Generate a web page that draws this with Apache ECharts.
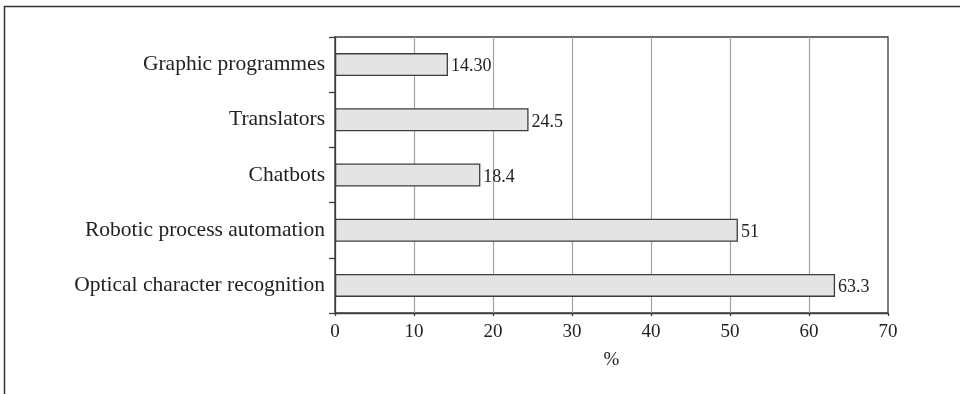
<!DOCTYPE html>
<html>
<head>
<meta charset="utf-8">
<script src="https://cdn.jsdelivr.net/npm/echarts@6/dist/echarts.min.js"></script>
<style>
  html, body { margin: 0; padding: 0; background: #fff; }
  #chart { width: 960px; height: 394px; }
</style>
</head>
<body>
<div id="chart"></div>
<script>
// Technology categories, listed top to bottom
const categories = [
  'Graphic programmes',
  'Translators',
  'Chatbots',
  'Robotic process automation',
  'Optical character recognition'
];
// Share of respondents, %
const values = [14.3, 24.5, 18.4, 51, 63.3];
// Printed value labels
const valueLabels = ['14.30', '24.5', '18.4', '51', '63.3'];
// Horizontal axis ticks
const xTicks = [0, 10, 20, 30, 40, 50, 60, 70];

const FONT = '"Liberation Serif", "DejaVu Serif", serif';
const TEXT = '#222';
const DARK = '#3c3c3c';

const chart = echarts.init(document.getElementById('chart'), null, { renderer: 'canvas' });

chart.setOption({
  animation: false,
  backgroundColor: '#fff',
  textStyle: { fontFamily: FONT, color: TEXT },
  graphic: [{
    type: 'rect',
    shape: { x: 4.5, y: 6.5, width: 2000, height: 2000 },
    style: { fill: 'none', stroke: '#333', lineWidth: 1.5 },
    silent: true
  }],
  grid: {
    left: 335, right: 72, top: 37, bottom: 81,
    show: true, borderColor: DARK, borderWidth: 1.3,
    backgroundColor: 'transparent'
  },
  xAxis: {
    type: 'value',
    min: xTicks[0],
    max: xTicks[xTicks.length - 1],
    interval: 10,
    name: '%',
    nameLocation: 'middle',
    nameGap: 38,
    nameTextStyle: { fontFamily: FONT, fontSize: 19, color: TEXT },
    axisLine: { show: true, lineStyle: { color: DARK, width: 1.3 } },
    axisTick: { show: true, length: 3, lineStyle: { color: DARK, width: 1.3 } },
    axisLabel: { fontFamily: FONT, fontSize: 19, color: TEXT, margin: 10 },
    splitLine: {
      show: true,
      lineStyle: {
        color: xTicks.map((t, i) => (i === 0 || i === xTicks.length - 1) ? 'rgba(0,0,0,0)' : '#a3a3a3'),
        width: 1.2
      }
    }
  },
  yAxis: {
    type: 'category',
    data: categories,
    inverse: true,
    axisLine: { show: true, lineStyle: { color: DARK, width: 1.3 } },
    axisTick: { show: true, length: 6, lineStyle: { color: DARK, width: 1.3 } },
    axisLabel: { fontFamily: FONT, fontSize: 21.5, color: TEXT, margin: 10 },
    splitLine: { show: false }
  },
  series: [{
    type: 'bar',
    data: values,
    barWidth: 23,
    itemStyle: { color: '#e4e4e4', borderColor: DARK, borderWidth: 1.3 },
    label: {
      show: true,
      position: 'right',
      distance: 3,
      offset: [0, 2],
      fontFamily: FONT,
      fontSize: 18,
      color: TEXT,
      formatter: (p) => valueLabels[p.dataIndex]
    }
  }]
});
</script>
</body>
</html>
